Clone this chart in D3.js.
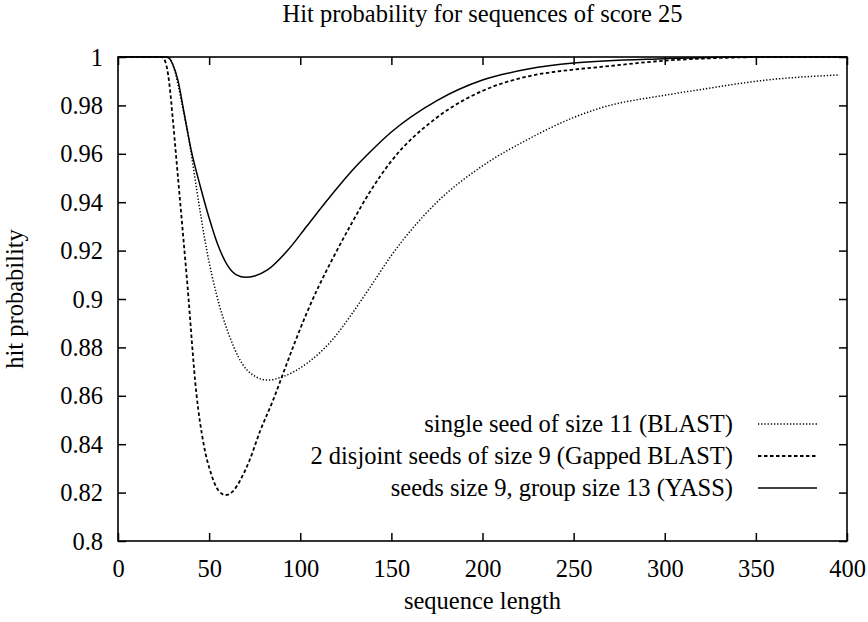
<!DOCTYPE html>
<html><head><meta charset="utf-8">
<script src="https://cdn.jsdelivr.net/npm/d3@7"></script>
<style>
body{margin:0;background:#fff;}
text{font-family:"Liberation Serif","Times New Roman",serif;fill:#000;}
</style></head>
<body><svg id="c" width="868" height="622"></svg>
<script>
const title = "Hit probability for sequences of score 25";
const xLabel = "sequence length";
const yLabel = "hit probability";
const xTicks = [0, 50, 100, 150, 200, 250, 300, 350, 400];
const yTicks = [0.8, 0.82, 0.84, 0.86, 0.88, 0.9, 0.92, 0.94, 0.96, 0.98, 1];
const seriesNames = ["single seed of size 11 (BLAST)", "2 disjoint seeds of size 9 (Gapped BLAST)", "seeds size 9, group size 13 (YASS)"];

const blastX = [0, 20, 27, 30, 35, 40, 43, 49, 54, 61, 71, 82, 90, 104, 118, 128, 138, 150, 175, 200, 225, 250, 265, 300, 320, 356, 396];
const blastY = [1, 1, 1, 0.997, 0.981, 0.961, 0.946, 0.919, 0.902, 0.885, 0.8705, 0.8665, 0.8678, 0.8736, 0.8835, 0.8935, 0.9045, 0.918, 0.940, 0.955, 0.966, 0.975, 0.979, 0.9842, 0.9866, 0.9905, 0.9926];

const gappedX = [0, 24, 26, 28, 30, 32, 34, 38, 43, 47, 51, 55, 59, 63, 67, 72, 78, 85, 90, 97, 104, 110, 118, 128, 138, 150, 175, 200, 225, 250, 265, 300, 330, 360, 400];
const gappedY = [1, 1, 0.998, 0.99, 0.975, 0.958, 0.941, 0.9066, 0.861, 0.840, 0.828, 0.821, 0.819, 0.8205, 0.825, 0.833, 0.8455, 0.858, 0.868, 0.882, 0.895, 0.905, 0.917, 0.931, 0.944, 0.957, 0.975, 0.986, 0.992, 0.9948, 0.9959, 0.9985, 0.9996, 1, 1];

const yassX = [0, 26, 28, 30, 33, 36, 40, 45, 50, 55, 60, 65, 70, 75, 82, 93, 104, 115, 129, 138, 150, 175, 200, 225, 250, 300, 340, 400];
const yassY = [1, 1, 0.9995, 0.997, 0.99, 0.978, 0.962, 0.947, 0.9335, 0.922, 0.914, 0.910, 0.909, 0.9095, 0.912, 0.920, 0.9305, 0.941, 0.9535, 0.9605, 0.969, 0.982, 0.9905, 0.995, 0.9975, 0.9993, 1, 1];

const svg = d3.select("#c");
const L = 118, R = 847, T = 57, B = 541;
const FS = 24.5;
const x = d3.scaleLinear().domain([0, 400]).range([L, R]);
const y = d3.scaleLinear().domain([0.8, 1]).range([B, T]);

const styles = [
  {dash: "1.3,1.9", w: 1.5},
  {dash: "3.5,2.5", w: 1.8},
  {dash: null, w: 1.5}
];
const data = [
  d3.zip(blastX, blastY),
  d3.zip(gappedX, gappedY),
  d3.zip(yassX, yassY)
];

svg.append("clipPath").attr("id", "pc").append("rect")
  .attr("x", L).attr("y", T - 2).attr("width", R - L).attr("height", B - T + 4);

const line = d3.line().x(d => x(d[0])).y(d => y(d[1])).curve(d3.curveMonotoneX);
const g = svg.append("g").attr("clip-path", "url(#pc)");
data.forEach((d, i) => {
  g.append("path").attr("d", line(d)).attr("fill", "none").attr("stroke", "#000")
    .attr("stroke-width", styles[i].w)
    .attr("stroke-dasharray", styles[i].dash);
});

// axes (ticks inward, mirrored)
const tl = 8;
const axB = svg.append("g").attr("transform", `translate(0,${B})`)
  .call(d3.axisBottom(x).tickValues(xTicks).tickSize(-tl).tickPadding(10).tickFormat(d3.format("d")));
const axT = svg.append("g").attr("transform", `translate(0,${T})`)
  .call(d3.axisTop(x).tickValues(xTicks).tickSize(-tl).tickFormat(""));
const axL = svg.append("g").attr("transform", `translate(${L},0)`)
  .call(d3.axisLeft(y).tickValues(yTicks).tickSize(-tl).tickPadding(15).tickFormat(d => String(+d.toFixed(2))));
const axR = svg.append("g").attr("transform", `translate(${R},0)`)
  .call(d3.axisRight(y).tickValues(yTicks).tickSize(-tl).tickFormat(""));
[axB, axT, axL, axR].forEach(a => {
  a.select(".domain").remove();
  a.selectAll(".tick line").attr("stroke", "#000").attr("stroke-width", 1.5);
  a.selectAll("text").style("font-size", FS + "px").style("font-family", '"Liberation Serif",serif').attr("fill", "#000");
});
axB.selectAll("text").attr("dy", null).attr("y", 577 - B);
axL.selectAll("text").attr("dy", "0.33em");

svg.append("rect").attr("x", L).attr("y", T).attr("width", R - L).attr("height", B - T)
  .attr("fill", "none").attr("stroke", "#000").attr("stroke-width", 1.6);

svg.append("text").attr("x", (L + R) / 2).attr("y", 22).attr("text-anchor", "middle")
  .style("font-size", FS + "px").text(title);
svg.append("text").attr("x", (L + R) / 2).attr("y", 609).attr("text-anchor", "middle")
  .style("font-size", FS + "px").text(xLabel);
svg.append("text").attr("transform", `translate(23,${(T + B) / 2}) rotate(-90)`).attr("text-anchor", "middle")
  .style("font-size", FS + "px").text(yLabel);

// legend
const legY = [424, 456, 488];
seriesNames.forEach((n, i) => {
  svg.append("text").attr("x", 733).attr("y", legY[i]).attr("dy", "0.33em").attr("text-anchor", "end")
    .style("font-size", FS + "px").text(n);
  svg.append("line").attr("x1", 758).attr("x2", 817).attr("y1", legY[i]).attr("y2", legY[i])
    .attr("stroke", "#000").attr("stroke-width", styles[i].w).attr("stroke-dasharray", styles[i].dash);
});
</script></body></html>
